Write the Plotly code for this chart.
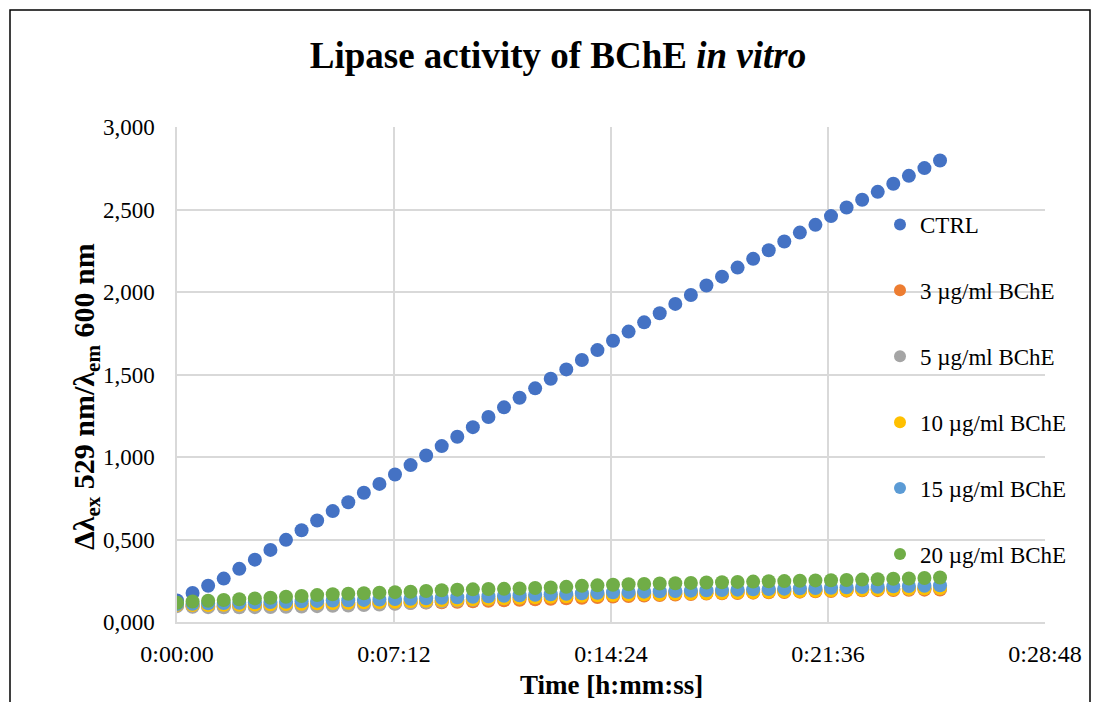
import plotly.graph_objects as go

# Read times in seconds (kinetic read every 31 s)
time_s = [0, 31, 62, 93, 124, 155, 186, 217, 248, 279,
          310, 341, 372, 403, 434, 465, 496, 527, 558, 589,
          620, 651, 682, 713, 744, 775, 806, 837, 868, 899,
          930, 961, 992, 1023, 1054, 1085, 1116, 1147, 1178, 1209,
          1240, 1271, 1302, 1333, 1364, 1395, 1426, 1457, 1488, 1519]

ctrl = [0.131, 0.176, 0.220, 0.263, 0.322, 0.378, 0.437, 0.498, 0.556, 0.615,
        0.672, 0.726, 0.783, 0.837, 0.894, 0.951, 1.009, 1.066, 1.123, 1.181,
        1.242, 1.301, 1.359, 1.416, 1.474, 1.531, 1.588, 1.648, 1.705, 1.760,
        1.816, 1.871, 1.928, 1.982, 2.039, 2.093, 2.148, 2.201, 2.253, 2.306,
        2.360, 2.407, 2.460, 2.512, 2.559, 2.607, 2.656, 2.704, 2.751, 2.797]

bche_3 = [0.100, 0.096, 0.095, 0.095, 0.096, 0.097, 0.098, 0.100, 0.102, 0.104,
          0.106, 0.108, 0.110, 0.112, 0.114, 0.116, 0.118, 0.120, 0.123, 0.126,
          0.129, 0.132, 0.135, 0.138, 0.141, 0.144, 0.147, 0.151, 0.155, 0.158,
          0.161, 0.164, 0.167, 0.170, 0.172, 0.174, 0.176, 0.178, 0.180, 0.182,
          0.184, 0.186, 0.188, 0.190, 0.192, 0.193, 0.194, 0.195, 0.196, 0.197]

bche_5 = [0.096, 0.092, 0.090, 0.089, 0.089, 0.090, 0.091, 0.092, 0.094, 0.096,
          0.098, 0.100, 0.103, 0.106, 0.110, 0.115, 0.120, 0.125, 0.130, 0.135,
          0.140, 0.144, 0.148, 0.152, 0.156, 0.160, 0.163, 0.166, 0.169, 0.172,
          0.175, 0.178, 0.180, 0.182, 0.184, 0.186, 0.188, 0.190, 0.192, 0.193,
          0.194, 0.196, 0.197, 0.198, 0.199, 0.200, 0.201, 0.202, 0.204, 0.206]

bche_10 = [0.104, 0.103, 0.103, 0.104, 0.105, 0.106, 0.107, 0.109, 0.111, 0.113,
           0.115, 0.117, 0.119, 0.121, 0.123, 0.126, 0.129, 0.132, 0.135, 0.138,
           0.141, 0.144, 0.147, 0.150, 0.153, 0.156, 0.159, 0.162, 0.164, 0.166,
           0.168, 0.170, 0.172, 0.174, 0.176, 0.178, 0.180, 0.182, 0.184, 0.186,
           0.188, 0.190, 0.192, 0.194, 0.196, 0.198, 0.200, 0.202, 0.204, 0.206]

bche_15 = [0.109, 0.111, 0.113, 0.115, 0.117, 0.119, 0.121, 0.123, 0.126, 0.128,
           0.130, 0.132, 0.134, 0.136, 0.139, 0.141, 0.144, 0.147, 0.150, 0.153,
           0.156, 0.159, 0.162, 0.165, 0.168, 0.171, 0.174, 0.177, 0.180, 0.182,
           0.184, 0.186, 0.188, 0.190, 0.192, 0.194, 0.196, 0.198, 0.200, 0.202,
           0.204, 0.206, 0.208, 0.210, 0.212, 0.214, 0.216, 0.218, 0.220, 0.222]

bche_20 = [0.117, 0.124, 0.129, 0.133, 0.138, 0.143, 0.147, 0.153, 0.158, 0.163,
           0.168, 0.171, 0.174, 0.178, 0.181, 0.183, 0.188, 0.192, 0.196, 0.198,
           0.200, 0.201, 0.203, 0.206, 0.209, 0.213, 0.219, 0.222, 0.226, 0.229,
           0.231, 0.233, 0.235, 0.237, 0.239, 0.241, 0.243, 0.245, 0.247, 0.248,
           0.250, 0.252, 0.253, 0.255, 0.257, 0.259, 0.262, 0.264, 0.267, 0.270]

series_names = ["CTRL", "3 µg/ml BChE", "5 µg/ml BChE", "10 µg/ml BChE",
                "15 µg/ml BChE", "20 µg/ml BChE"]
series_values = [ctrl, bche_3, bche_5, bche_10, bche_15, bche_20]
series_colors = ["#4472C4", "#ED7D31", "#A5A5A5", "#FFC000", "#5B9BD5", "#70AD47"]

x_tick_seconds = [0, 432, 864, 1296, 1728]
x_tick_labels = ["0:00:00", "0:07:12", "0:14:24", "0:21:36", "0:28:48"]

FONT = "Liberation Serif, Times New Roman, serif"

fig = go.Figure()
for name, vals, color in zip(series_names, series_values, series_colors):
    fig.add_trace(go.Scatter(
        x=time_s, y=vals, mode="markers", name=name, legendgroup=name,
        marker=dict(size=14, color=color, line=dict(width=0)),
    ))

# plot-area geometry in pixels, used to place the frame and free-standing texts
W, H = 1098, 702
L, R, T, B = 177, 53, 127, 80
pw, ph = W - L - R, H - T - B

def px_x(p):
    return (p - L) / pw

def px_y(p):
    return (H - B - p) / ph

fig.update_layout(
    width=W, height=H,
    margin=dict(l=L, r=R, t=T, b=B),
    paper_bgcolor="white", plot_bgcolor="white",
    separators=",.",
    font=dict(family=FONT, size=23, color="#000000"),
    title=dict(
        text="<b>Lipase activity of BChE <i>in vitro</i></b>",
        x=558 / W, xanchor="center", xref="container",
        y=1 - 55 / H, yanchor="middle", yref="container",
        font=dict(family=FONT, size=37, color="#000000"),
    ),
    xaxis=dict(
        range=[0, 1728], tickvals=x_tick_seconds, ticktext=x_tick_labels,
        showgrid=True, gridcolor="#d9d9d9", gridwidth=1.5,
        showline=True, linecolor="#d9d9d9", linewidth=1.5,
        zeroline=False, ticks="", ticklabelstandoff=9, automargin=False,
        tickfont=dict(family=FONT, size=24),
    ),
    yaxis=dict(
        range=[0, 3], dtick=0.5, tickformat=".3f",
        showgrid=True, gridcolor="#d9d9d9", gridwidth=1.5,
        showline=True, linecolor="#d9d9d9", linewidth=1.5,
        zeroline=False, ticks="", ticklabelstandoff=16, automargin=False,
        tickfont=dict(family=FONT, size=23),
    ),
    legend=dict(
        x=px_x(880), xanchor="left", y=px_y(203), yanchor="top",
        bgcolor="rgba(0,0,0,0)", borderwidth=0,
        font=dict(family=FONT, size=23),
        tracegroupgap=33, itemsizing="constant",
    ),
    annotations=[
        dict(
            text="<b>Δλ<sub>ex</sub> 529 nm/λ<sub>em</sub> 600 nm</b>",
            xref="paper", yref="paper", x=px_x(86), y=px_y(397),
            xanchor="center", yanchor="middle", textangle=-90, showarrow=False,
            font=dict(family=FONT, size=30, color="#000000"),
        ),
        dict(
            text="<b>Time [h:mm:ss]</b>",
            xref="paper", yref="paper", x=0.5, y=px_y(685),
            xanchor="center", yanchor="middle", showarrow=False,
            font=dict(family=FONT, size=27, color="#000000"),
        ),
    ],
    shapes=[dict(
        type="rect", xref="paper", yref="paper",
        x0=px_x(10), x1=px_x(1090), y0=px_y(720), y1=px_y(10),
        line=dict(color="#000000", width=1.5), fillcolor="rgba(0,0,0,0)",
        layer="below",
    )],
)

fig.write_html("out.html")
